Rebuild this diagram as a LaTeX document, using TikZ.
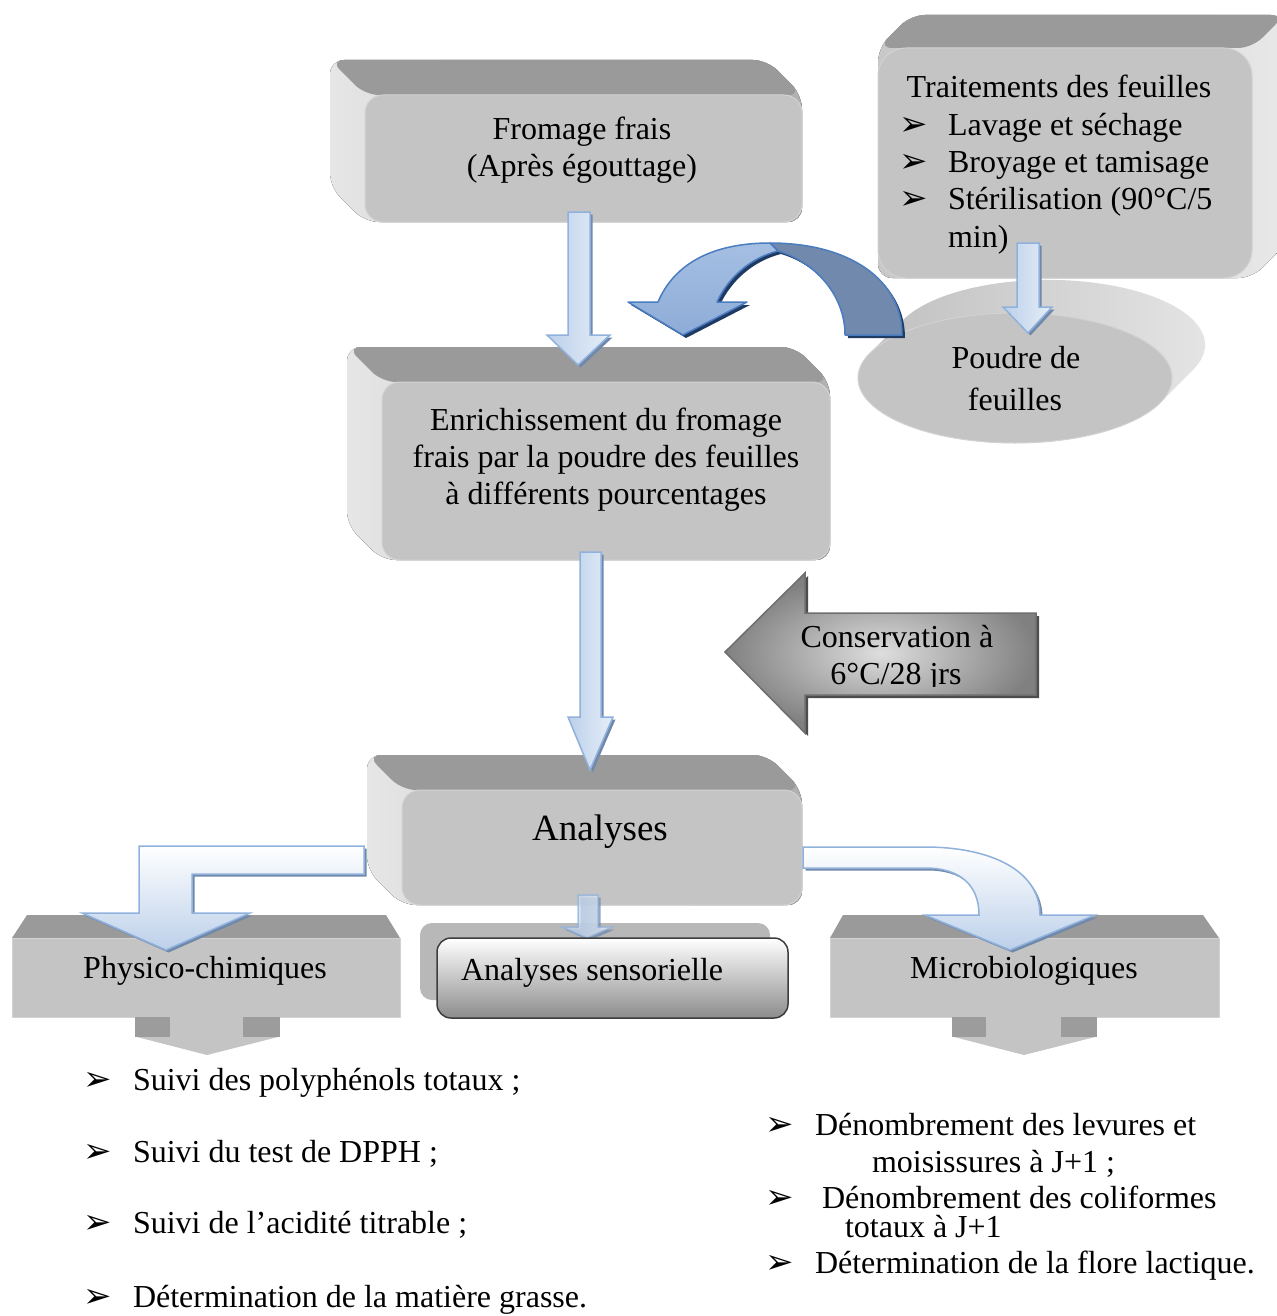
\documentclass[tikz,border=0pt]{standalone}
\usepackage{fontspec}
\setmainfont{Liberation Serif}
\newfontfamily\dejavu{DejaVu Sans}
\usetikzlibrary{calc}
\definecolor{boxfront}{HTML}{C4C4C4}
\definecolor{boxedge}{HTML}{D2D2D2}
\definecolor{boxtop}{HTML}{9A9A9A}
\definecolor{boxdark}{HTML}{9C9C9C}
\definecolor{bevlight}{HTML}{E6E6E6}
\definecolor{bevdark}{HTML}{B0B0B0}
\definecolor{trleft}{HTML}{C8C8C8}
\definecolor{trright}{HTML}{E8E8E8}
\definecolor{ellA}{HTML}{BDBDBD}
\definecolor{ellB}{HTML}{A3A3A3}
\definecolor{ellC}{HTML}{E6E6E6}
\definecolor{arrborder}{HTML}{8FB1DC}
\definecolor{arrlight}{HTML}{E6EEF8}
\definecolor{arrmid}{HTML}{BCD0EA}
\definecolor{arrshadow}{HTML}{7088AA}
\definecolor{cvfront}{HTML}{4F81BD}
\definecolor{cvtop}{HTML}{A5BFE2}
\definecolor{cvbot}{HTML}{8EACD8}
\definecolor{cvback}{HTML}{7189AC}
\definecolor{cvedge}{HTML}{4A7CC0}
\definecolor{cvshadow}{HTML}{1F3A63}
\definecolor{consedge}{HTML}{6E6E6E}
\definecolor{consshadow}{HTML}{4D4D4D}
\definecolor{consin}{HTML}{DEDEDE}
\definecolor{consout}{HTML}{808080}
\definecolor{senback}{HTML}{B8B8B8}
\definecolor{senbot}{HTML}{8C8C8C}
\definecolor{senedge}{HTML}{3D3D3D}
\tikzset{
  txt/.style={font=\fontsize{32}{37}\selectfont, anchor=base, inner sep=0pt, outer sep=0pt},
  txtl/.style={txt, anchor=base west},
  bigtxt/.style={font=\fontsize{37}{42}\selectfont, anchor=base, inner sep=0pt},
  bul/.style={font=\dejavu\fontsize{34}{34}\selectfont, anchor=base west, inner sep=0pt},
  frontface/.style={fill=boxfront, draw=boxedge, line width=1},
  bluearr/.style={left color=arrmid, right color=arrlight, draw=arrborder, line width=1.5, line join=miter},
  bentarr/.style={top color=white, bottom color=arrmid, draw=arrborder, line width=1.5},
  shadowfill/.style={fill=arrshadow}
}
\newcommand\bevelUL[4]{%
  \fill[rounded corners=14, left color=bevlight, right color=bevdark] (#1-35,#2-35) -- (#3-35,#2-35) -- (#3,#2) -- (#3,#4) -- (#1,#4) -- (#1-35,#4-35) -- cycle;
  \fill[rounded corners=14, boxtop] (#1-35,#2-35) -- (#3-35,#2-35) -- (#3,#2) -- (#1,#2) -- cycle;
  \path[frontface, rounded corners=18] (#1,#2) rectangle (#3,#4);
}
\newcommand\bluedn[8]{%
  \fill[shadowfill, shift={(2.5,2.5)}] (#1,#3) -- (#2,#3) -- (#2,#4) -- (#6,#4) -- (#7,#8) -- (#5,#4) -- (#1,#4) -- cycle;
  \path[bluearr] (#1,#3) -- (#2,#3) -- (#2,#4) -- (#6,#4) -- (#7,#8) -- (#5,#4) -- (#1,#4) -- cycle;
}
\begin{document}
\begin{tikzpicture}[x=1pt,y=-1pt]
\useasboundingbox (0,0) rectangle (1276,1316);

% ---------- Fromage frais ----------
\bevelUL{365}{95}{802}{222}
\node[txt] (fro1) at (582,140) {Fromage frais};
\node[txt] (fro2) at (582,177) {(Après égouttage)};

% ---------- Traitements des feuilles ----------
\fill[rounded corners=14, left color=trleft, right color=trright] (878,48) -- (911,15) -- (1285,15) -- (1285,245) -- (1252,278) -- (878,278) -- cycle;
\fill[rounded corners=14, boxtop] (878,48) -- (911,15) -- (1285,15) -- (1252,48) -- cycle;
\path[frontface, rounded corners=28] (878,48) rectangle (1252,278);
\node[txt] (tr0) at (1059,98) {Traitements des feuilles};
\node[bul] (trb1) at (899,136) {➢};
\node[txtl] (tr1) at (948,136) {Lavage et séchage};
\node[bul] (trb2) at (899,173) {➢};
\node[txtl] (tr2) at (948,173) {Broyage et tamisage};
\node[bul] (trb3) at (899,209) {➢};
\node[txtl] (tr3) at (948,209) {Stérilisation (90°C/5};
\node[txtl] (tr4) at (948,247) {min)};

% ---------- Poudre de feuilles ----------
\path[left color=ellA, middle color=ellB, right color=ellC]
  (903,320) arc[start angle=202.5, end angle=382.5, x radius=157, y radius=65]
  -- (1160,403) arc[start angle=22.5, end angle=202.5, x radius=157, y radius=65] -- cycle;
\path[fill=boxfront, draw=boxedge, line width=1] (1015,378) ellipse [x radius=157, y radius=65];
\node[txt] (pou1) at (1016,368) {Poudre de};
\node[txt] (pou2) at (1015,410) {feuilles};

% arrow Traitements -> Poudre
\bluedn{1017}{1039}{243}{307}{1003}{1052}{1028}{333}

% ---------- curved arrow ----------
\begin{scope}[shift={(3,3)}]
\fill[cvshadow] (770,243) .. controls (850,243) and (902,280) .. (902,335) -- (845,335) .. controls (845,295) and (815,262) .. (778,251) -- cycle;
\fill[cvshadow] (658,302) .. controls (675,262) and (715,243) .. (770,243) -- (778,251) .. controls (750,258) and (728,278) .. (717,302) -- (747,302) -- (683,335) -- (628,302) -- cycle;
\end{scope}
\path[fill=cvback, draw=cvedge, line width=1.5, line join=round] (770,243) .. controls (850,243) and (902,280) .. (902,335) -- (845,335) .. controls (845,295) and (815,262) .. (778,251) -- cycle;
\path[top color=cvtop, middle color=cvfront, bottom color=cvbot, draw=cvedge, line width=1.5, line join=round] (658,302) .. controls (675,262) and (715,243) .. (770,243) -- (778,251) .. controls (750,258) and (728,278) .. (717,302) -- (747,302) -- (683,335) -- (628,302) -- cycle;

% ---------- Enrichissement ----------
\bevelUL{382}{382}{830}{560}
\node[txt] (enr1) at (606,430) {Enrichissement du fromage};
\node[txt] (enr2) at (606,467) {frais par la poudre des feuilles};
\node[txt] (enr3) at (606,504) {à différents pourcentages};

% arrow Fromage -> Enrichissement
\bluedn{568}{590}{212}{335}{547}{610}{578}{365}

% ---------- Conservation arrow ----------
\fill[consshadow, shift={(3,3)}] (725,652) -- (805,573) -- (805,613) -- (1036,613) -- (1036,695) -- (805,695) -- (805,733) -- cycle;
\path[inner color=consin, outer color=consout, draw=consedge, line width=1.5] (725,652) -- (805,573) -- (805,613) -- (1036,613) -- (1036,695) -- (805,695) -- (805,733) -- cycle;
\node[txt] (con1) at (897,647) {Conservation à};
\begin{scope}
\clip (790,655) rectangle (1030,686);
\node[txt] (con2) at (896,684) {6°C/28 jrs};
\end{scope}

% ---------- Analyses ----------
\bevelUL{402}{790}{802}{905}
\node[bigtxt] (ana) at (600,840) {Analyses};

% arrow Enrichissement -> Analyses
\bluedn{580}{601}{552}{717}{568}{613}{590}{770}

% ---------- Physico-chimiques ----------
\fill[boxtop] (12,938) -- (27,915) -- (386,915) -- (400,938) -- cycle;
\path[frontface] (12,938) rectangle (400,1017);
\fill[boxfront] (135,1017) -- (280,1017) -- (278,1037) -- (207,1055) -- (137,1037) -- cycle;
\fill[boxdark] (135,1017) rectangle (170,1037);
\fill[boxdark] (243,1017) rectangle (280,1037);
\node[txt] (phy) at (205,978) {Physico-chimiques};

% ---------- Microbiologiques ----------
\fill[boxtop] (830,938) -- (843,915) -- (1203,915) -- (1219,938) -- cycle;
\path[frontface] (830,938) rectangle (1219,1017);
\fill[boxfront] (952,1017) -- (1097,1017) -- (1095,1037) -- (1024,1055) -- (954,1037) -- cycle;
\fill[boxdark] (952,1017) rectangle (986,1037);
\fill[boxdark] (1061,1017) rectangle (1097,1037);
\node[txt] (mic) at (1024,978) {Microbiologiques};

% ---------- Analyses sensorielle ----------
\fill[senback, rounded corners=12] (420,923) rectangle (770,1000);
\begin{scope}[opacity=0.75]
\bluedn{578}{598}{895}{927}{562}{612}{587}{938}
\end{scope}
\path[top color=white, bottom color=senbot, draw=senedge, line width=1.5, rounded corners=14] (437,938) rectangle (788,1018);
\node[txtl] (sen) at (461,980) {Analyses sensorielle};

% ---------- bent arrows ----------
\fill[shadowfill, shift={(2.5,2.5)}] (364,846) -- (139,846) -- (139,913) -- (82,913) -- (166,950) -- (250,913) -- (192,913) -- (192,874) -- (364,874) -- cycle;
\path[bentarr] (364,846) -- (139,846) -- (139,913) -- (82,913) -- (166,950) -- (250,913) -- (192,913) -- (192,874) -- (364,874) -- cycle;
\fill[shadowfill, shift={(2.5,2.5)}] (803,847) -- (925,847) .. controls (990,847) and (1040,870) .. (1040,915) -- (1095,915) -- (1010,950) -- (925,915) -- (979,915) .. controls (979,885) and (960,868) .. (925,868) -- (803,868) -- cycle;
\path[bentarr] (803,847) -- (925,847) .. controls (990,847) and (1040,870) .. (1040,915) -- (1095,915) -- (1010,950) -- (925,915) -- (979,915) .. controls (979,885) and (960,868) .. (925,868) -- (803,868) -- cycle;

% ---------- left list ----------
\node[bul] (lb1) at (83,1090) {➢};
\node[txtl] (l1) at (133,1090) {Suivi des polyphénols totaux ;};
\node[bul] (lb2) at (83,1162) {➢};
\node[txtl] (l2) at (133,1162) {Suivi du test de DPPH ;};
\node[bul] (lb3) at (83,1233) {➢};
\node[txtl] (l3) at (133,1233) {Suivi de l’acidité titrable ;};
\node[bul] (lb4) at (83,1307) {➢};
\node[txtl] (l4) at (133,1307) {Détermination de la matière grasse.};

% ---------- right list ----------
\node[bul] (rb1) at (765,1135) {➢};
\node[txtl] (r1) at (815,1135) {Dénombrement des levures et};
\node[txtl] (r1b) at (872,1172) {moisissures à J+1 ;};
\node[bul] (rb2) at (765,1208) {➢};
\node[txtl] (r2) at (822,1208) {Dénombrement des coliformes};
\node[txtl] (r2b) at (845,1237) {totaux à J+1};
\node[bul] (rb3) at (765,1273) {➢};
\node[txtl] (r3) at (815,1273) {Détermination de la flore lactique.};
\end{tikzpicture}
\end{document}
